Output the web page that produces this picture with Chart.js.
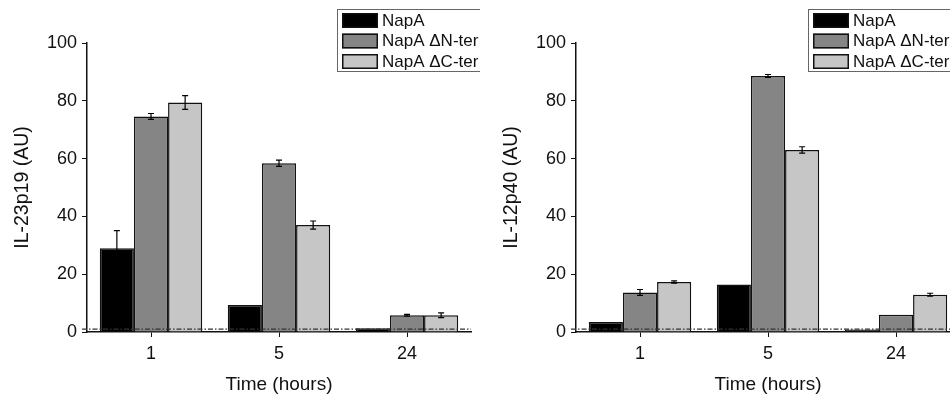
<!DOCTYPE html>
<html>
<head>
<meta charset="utf-8">
<script src="https://cdn.jsdelivr.net/npm/chart.js@4.4.1/dist/chart.umd.min.js"></script>
<style>
    html, body { margin: 0; padding: 0; background: #fff; overflow: hidden; }
    body { width: 950px; height: 401px; position: relative; }
    canvas { position: absolute; top: 0; }
    #il23 { left: 0; }
    #il12 { left: 489px; }
</style>
</head>
<body>
<canvas id="il23" width="480" height="401"></canvas>
<canvas id="il12" width="480" height="401"></canvas>
<script>
// IL-23p19 / IL-12p40 after NapA stimulation (bars +- error)

const hours = ['1', '5', '24'];
const seriesLabels = ['NapA', 'NapA \u0394N-ter', 'NapA \u0394C-ter'];
const seriesColors = ['#000000', '#858585', '#c6c6c6'];
const yTicks = [0, 20, 40, 60, 80, 100];
const detectionLimit = 1;

// IL-23p19
const il23NapA = [29.0, 9.3, 1.3];
const il23NapAErr = [6.1, 0, 0];
const il23DeltaN = [74.6, 58.4, 5.8];
const il23DeltaNErr = [1.0, 1.1, 0.3];
const il23DeltaC = [79.4, 37.0, 5.8];
const il23DeltaCErr = [2.4, 1.4, 0.8];

// IL-12p40
const il12NapA = [3.5, 16.4, 0.9];
const il12NapAErr = [0, 0, 0];
const il12DeltaN = [13.7, 88.6, 6.0];
const il12DeltaNErr = [1.0, 0.5, 0];
const il12DeltaC = [17.3, 63.0, 12.9];
const il12DeltaCErr = [0.4, 1.1, 0.5];

const FONT = "'Liberation Sans', Arial, sans-serif";

// error bars on top of each bar
const errorBars = {
    id: 'errorBars',
    afterDatasetsDraw(chart) {
        const ctx = chart.ctx;
        const y = chart.scales.y;
        ctx.save();
        ctx.strokeStyle = '#000';
        ctx.lineWidth = 1.2;
        chart.data.datasets.forEach((ds, di) => {
            const meta = chart.getDatasetMeta(di);
            meta.data.forEach((bar, i) => {
                const err = ds.errors[i];
                if (!err) return;
                const top = y.getPixelForValue(ds.data[i] + err);
                const bot = y.getPixelForValue(ds.data[i] - err);
                ctx.beginPath();
                ctx.moveTo(bar.x, top);
                ctx.lineTo(bar.x, bot);
                ctx.moveTo(bar.x - 3, top);
                ctx.lineTo(bar.x + 3, top);
                ctx.moveTo(bar.x - 3, bot);
                ctx.lineTo(bar.x + 3, bot);
                ctx.stroke();
            });
        });
        ctx.restore();
    }
};

// dash-dot line at the detection limit
const limitLine = {
    id: 'limitLine',
    afterDatasetsDraw(chart) {
        const ctx = chart.ctx;
        const area = chart.chartArea;
        const yPix = chart.scales.y.getPixelForValue(detectionLimit);
        ctx.save();
        ctx.strokeStyle = '#333';
        ctx.lineWidth = 1.2;
        ctx.setLineDash([5, 2, 1.5, 2]);
        ctx.beginPath();
        ctx.moveTo(area.left - 5, yPix);
        ctx.lineTo(area.right, yPix);
        ctx.stroke();
        ctx.restore();
    }
};

// boxed legend in the top right corner
const boxLegend = {
    id: 'boxLegend',
    afterDraw(chart, args, opts) {
        const ctx = chart.ctx;
        ctx.save();
        ctx.strokeStyle = '#666';
        ctx.lineWidth = 1;
        ctx.strokeRect(opts.x + 0.5, opts.y + 0.5, 146, 62);
        ctx.font = '17px ' + FONT;
        ctx.textBaseline = 'middle';
        chart.data.datasets.forEach((ds, i) => {
            const rowY = opts.y + 4 + i * 20.5;
            ctx.fillStyle = ds.backgroundColor;
            ctx.fillRect(opts.x + 5, rowY, 36, 15);
            ctx.strokeStyle = '#111';
            ctx.lineWidth = 1.5;
            ctx.strokeRect(opts.x + 5.75, rowY + 0.75, 34.5, 13.5);
            ctx.fillStyle = '#111';
            ctx.fillText(ds.label, opts.x + 45, rowY + 8);
        });
        ctx.restore();
    }
};

function makeChart(id, yTitle, series, errors, legendX) {
    const ctx = document.getElementById(id).getContext('2d');
    return new Chart(ctx, {
        type: 'bar',
        data: {
            labels: hours,
            datasets: series.map((values, i) => ({
                label: seriesLabels[i],
                data: values,
                errors: errors[i],
                backgroundColor: seriesColors[i],
                borderColor: '#111',
                borderWidth: 1.5,
                categoryPercentage: 0.8,
                barPercentage: 1.0
            }))
        },
        options: {
            responsive: false,
            animation: false,
            events: [],
            layout: { padding: { top: 43, right: 9, left: 0, bottom: 0 } },
            scales: {
                x: {
                    grid: {
                        display: true,
                        drawOnChartArea: false,
                        drawTicks: true,
                        tickLength: 5,
                        offset: false,
                        color: '#111'
                    },
                    border: { color: '#111', width: 1.5 },
                    ticks: { color: '#111', padding: 6, font: { family: FONT, size: 18 } },
                    title: {
                        display: true,
                        text: 'Time (hours)',
                        color: '#111',
                        padding: { top: 0, bottom: 5 },
                        font: { family: FONT, size: 19 }
                    },
                    afterFit(scale) { scale.height = 69; }
                },
                y: {
                    min: 0,
                    max: 100,
                    grid: {
                        display: true,
                        drawOnChartArea: false,
                        drawTicks: true,
                        tickLength: 5,
                        color: '#111'
                    },
                    border: { color: '#111', width: 1.5 },
                    afterBuildTicks(scale) {
                        scale.ticks = yTicks.map(v => ({ value: v }));
                    },
                    ticks: { color: '#111', padding: 5, font: { family: FONT, size: 18 } },
                    title: {
                        display: true,
                        text: yTitle,
                        color: '#111',
                        padding: { top: 11, bottom: 0 },
                        font: { family: FONT, size: 19.5 }
                    },
                    afterFit(scale) { scale.width = 87; }
                }
            },
            plugins: {
                legend: { display: false },
                tooltip: { enabled: false },
                boxLegend: { x: legendX, y: 9 }
            }
        },
        plugins: [errorBars, limitLine, boxLegend]
    });
}

makeChart('il23', 'IL-23p19 (AU)',
    [il23NapA, il23DeltaN, il23DeltaC],
    [il23NapAErr, il23DeltaNErr, il23DeltaCErr], 337);

makeChart('il12', 'IL-12p40 (AU)',
    [il12NapA, il12DeltaN, il12DeltaC],
    [il12NapAErr, il12DeltaNErr, il12DeltaCErr], 319);
</script>
</body>
</html>
